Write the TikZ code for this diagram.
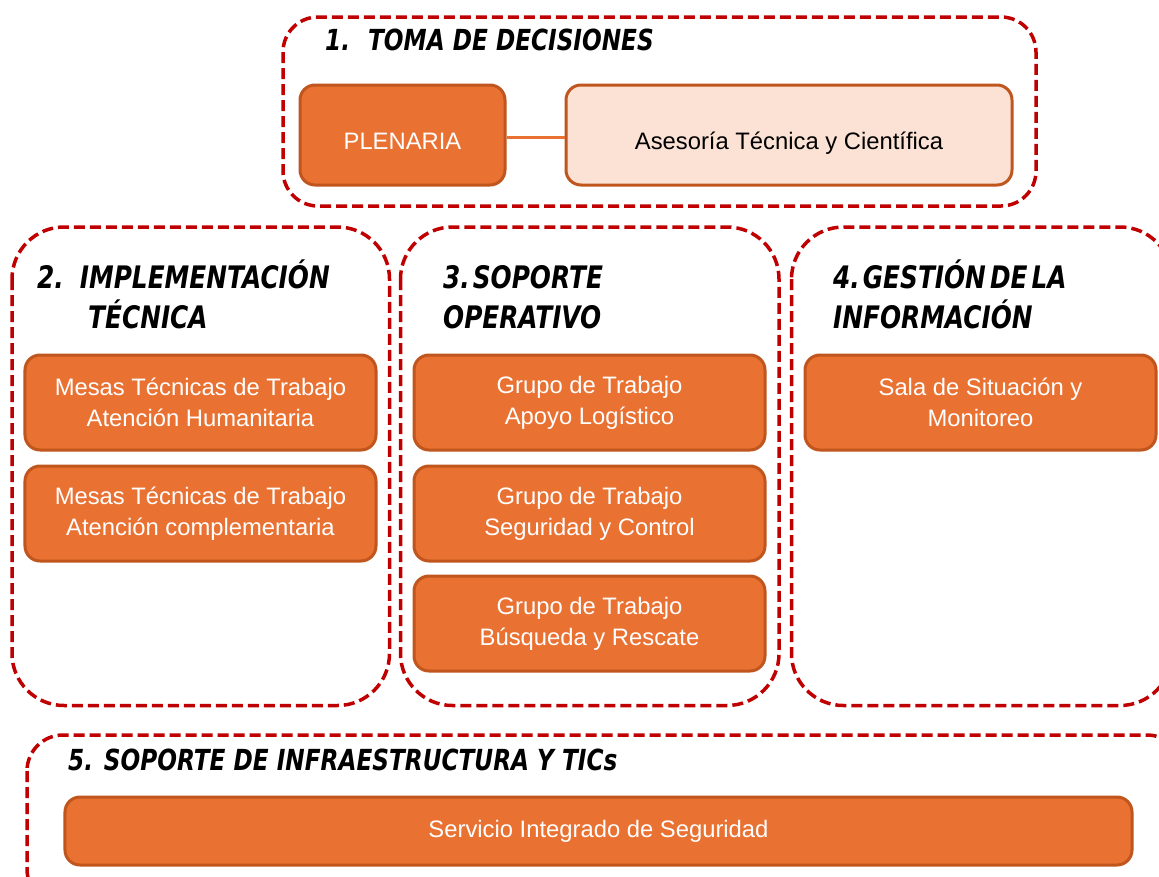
\documentclass[tikz,border=0pt]{standalone}
\usepackage{fontspec}
\setmainfont{Liberation Sans}
\newfontfamily\hfont[FakeStretch=0.8]{DejaVu Sans}
\definecolor{dred}{HTML}{C00000}
\definecolor{oran}{HTML}{E97132}
\definecolor{obord}{HTML}{C0561D}
\definecolor{lightor}{HTML}{FBE2D5}
\tikzset{
  cont/.style={draw=dred, line width=3.5bp, dash pattern=on 11bp off 5bp},
  obox/.style={draw=obord, fill=oran, line width=3bp, rounded corners=15bp,
    text=white, align=center, inner sep=0pt,
    font=\fontsize{23.8bp}{31bp}\selectfont},
  hd/.style={font=\hfont\bfseries\itshape\fontsize{31bp}{40bp}\selectfont,
    anchor=base west, inner sep=0pt, align=left},
  hdsmall/.style={hd, font=\hfont\bfseries\itshape\fontsize{29bp}{40bp}\selectfont},
  conn/.style={draw=oran, line width=3bp}
}
\begin{document}
\begin{tikzpicture}[x=1bp,y=-1bp]
\useasboundingbox (0,0) rectangle (1159,877);
\clip (0,0) rectangle (1159,877);
\fill[white] (0,0) rectangle (1159,877);

% containers
\draw[cont, rounded corners=35bp] (283,17) rectangle (1036,206);
\draw[cont, rounded corners=52bp] (12,227) rectangle (389.5,705.5);
\draw[cont, rounded corners=52bp] (400.5,227) rectangle (779,705.5);
\draw[cont, rounded corners=52bp] (791.5,227) rectangle (1172,705.5);
\draw[cont, rounded corners=36bp] (27,735) rectangle (1183,905);

% headings
\node[hdsmall] (h1) at (325,50) {1.\hspace{18bp}TOMA DE DECISIONES};
\node[hd] (h2) at (37,328) {2.\hspace{16bp}IMPLEMENTACIÓN\\\hspace*{51bp}TÉCNICA};
\node[hd] (h3) at (443,328) {3.\hspace{3bp}SOPORTE\\OPERATIVO};
\node[hd] (h4) at (833,328) {4.\hspace{3bp}GESTIÓN\hspace{4bp}DE\hspace{4bp}LA\\INFORMACIÓN};
\node[hdsmall] (h5) at (68,770) {5. SOPORTE DE INFRAESTRUCTURA Y TICs};

% boxes
\node[obox, minimum width=205bp, minimum height=100bp, text height=29bp, text depth=0bp] (plen) at (402.5,135) {PLENARIA};
\node[obox, fill=lightor, text=black, minimum width=446bp, minimum height=100bp, text height=29bp, text depth=0bp] (ases) at (789,135) {Asesoría Técnica y Científica};
\draw[conn] ([yshift=-2bp]plen.east) -- ([yshift=-2bp]ases.west);

\node[obox, minimum width=351bp, minimum height=95bp] (m1) at (200.5,402.5) {Mesas Técnicas de Trabajo\\Atención Humanitaria};
\node[obox, minimum width=351bp, minimum height=95bp] (m2) at (200.5,513.5) {Mesas Técnicas de Trabajo\\Atención complementaria};

\node[obox, minimum width=351bp, minimum height=95bp] (g1) at (589.5,402.5) {Grupo de Trabajo\\Apoyo Logístico};
\node[obox, minimum width=351bp, minimum height=95bp] (g2) at (589.5,513.5) {Grupo de Trabajo\\Seguridad y Control};
\node[obox, minimum width=351bp, minimum height=95bp] (g3) at (589.5,623.5) {Grupo de Trabajo\\Búsqueda y Rescate};

\node[obox, minimum width=351bp, minimum height=95bp] (sala) at (980.5,402.5) {Sala de Situación y\\Monitoreo};

\node[obox, minimum width=1067bp, minimum height=68bp] (serv) at (598.5,831) {Servicio Integrado de Seguridad};
\end{tikzpicture}
\end{document}
